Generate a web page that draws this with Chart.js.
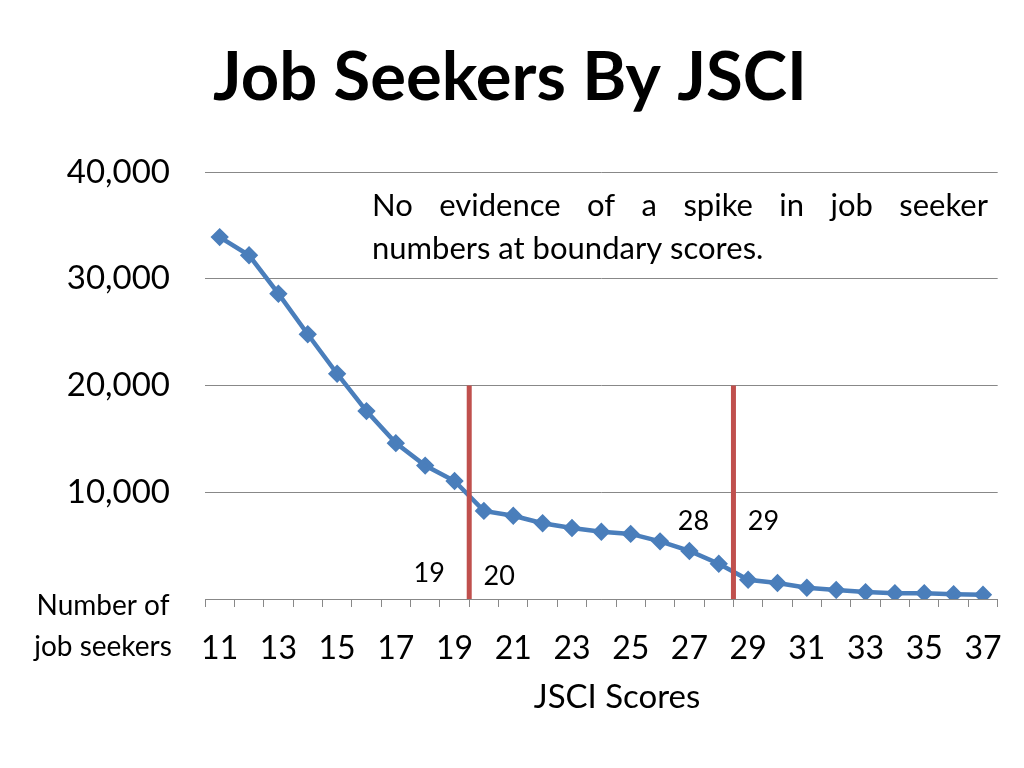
<!DOCTYPE html>
<html><head><meta charset="utf-8">
<script src="https://cdn.jsdelivr.net/npm/chart.js@4"></script>
<style>html,body{margin:0;padding:0;background:#fff}#w{width:1024px;height:768px}</style>
</head><body><div id="w"><canvas id="c"></canvas></div>
<script>
const scores = [11,12,13,14,15,16,17,18,19,20,21,22,23,24,25,26,27,28,29,30,31,32,33,34,35,36,37];
const seekers = [33900,32200,28600,24800,21100,17600,14600,12500,11050,8250,7800,7100,6650,6300,6100,5400,4500,3300,1800,1500,1050,850,650,550,550,450,400];
const boundaries = [[19,20],[28,29]];
const boundaryTop = 20000;
const F = "Lato, 'Open Sans', sans-serif";

const deco = {
  id:'deco',
  afterDatasetsDraw(chart){
    const {ctx, scales:{x,y}} = chart;
    ctx.save();
    ctx.fillStyle='#000';
    ctx.font = "bold 67px "+F; ctx.textAlign='center'; ctx.textBaseline='alphabetic';
    ctx.fillText('Job Seekers By JSCI', 510, 100);
    ctx.font = "31px "+F; ctx.textAlign='left';
    const line1 = ['No','evidence','of','a','spike','in','job','seeker'];
    const x0 = 372, x1 = 988;
    const wsum = line1.reduce((s,w)=>s+ctx.measureText(w).width,0);
    const gap = (x1-x0-wsum)/(line1.length-1);
    let cx = x0;
    line1.forEach(w=>{ctx.fillText(w,cx,216); cx += ctx.measureText(w).width+gap;});
    ctx.fillText('numbers at boundary scores.', 372, 259);
    ctx.font = "28px "+F; ctx.textAlign='center';
    ctx.fillText('Number of', 103, 615);
    ctx.fillText('job seekers', 103, 656);
    ctx.font = "33px "+F;
    ctx.fillText('JSCI Scores', 617, 708);
    ctx.font = "27px "+F;
    boundaries.forEach(([a,b],i)=>{
      const ia = scores.indexOf(a);
      const px = x.getPixelForValue(ia+0.5);
      ctx.strokeStyle='#c0504d'; ctx.lineWidth=5;
      ctx.beginPath(); ctx.moveTo(px,y.getPixelForValue(0)); ctx.lineTo(px,y.getPixelForValue(boundaryTop)); ctx.stroke();
      const ly = i===0 ? 582 : 530;
      const ly2 = i===0 ? 585 : 530;
      ctx.fillStyle='#000';
      ctx.fillText(String(a), px-40, ly);
      ctx.fillText(String(b), px+30, ly2);
    });
    ctx.restore();
  }
};

new Chart(document.getElementById('c'),{
  type:'line',
  data:{labels:scores.map(String),datasets:[{data:seekers,borderColor:'#4a7ebb',backgroundColor:'#4a7ebb',borderWidth:4.5,pointStyle:'rectRot',pointRadius:6,pointHoverRadius:6,tension:0}]},
  options:{
    responsive:true,maintainAspectRatio:false,animation:false,
    layout:{padding:{top:172,right:24,left:0,bottom:0}},
    plugins:{legend:{display:false},tooltip:{enabled:false}},
    scales:{
      x:{offset:true,afterFit:s=>{s.height=169;},
        grid:{offset:true,drawOnChartArea:false,tickLength:8,color:'#888'},
        border:{color:'#888'},
        ticks:{autoSkip:false,maxRotation:0,color:'#000',font:{family:F,size:32},padding:22,
          callback:(v,i)=> i%2===0 ? scores[i] : ''}},
      y:{min:0,max:40000,afterFit:s=>{s.width=205;},
        grid:{color:'#888',drawTicks:false},border:{display:false},
        ticks:{stepSize:10000,color:'#000',font:{family:F,size:33},padding:35,
          callback:v=> v===0 ? '' : v.toLocaleString('en-US')}}
    }
  },
  plugins:[deco]
});
</script></body></html>
